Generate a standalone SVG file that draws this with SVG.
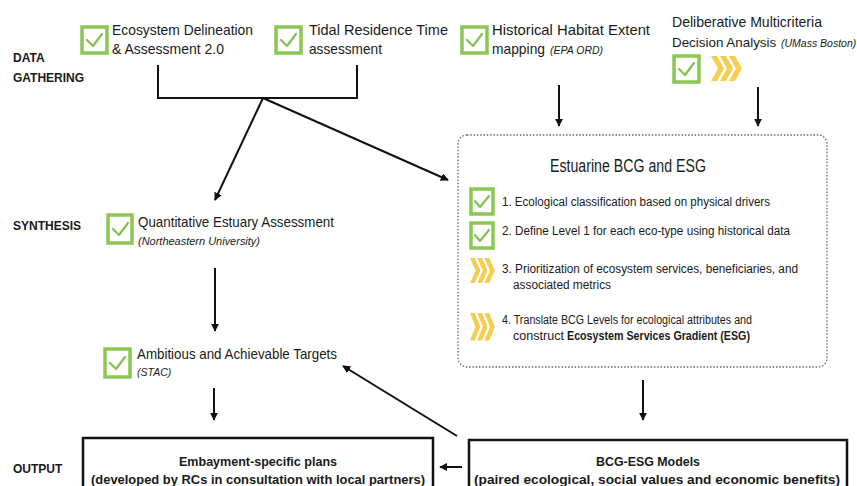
<svg xmlns="http://www.w3.org/2000/svg" width="857" height="486" viewBox="0 0 857 486">
<defs>
<style>
.t{font-family:"Liberation Sans",Arial,sans-serif;fill:#1a1a1a}
.top{font-size:15px}
.it{font-size:12.5px}
.sub{font-size:10.5px;font-style:italic}
.lbl{font-size:12px;font-weight:bold}
.bx{font-size:13px;font-weight:bold}
.cb{fill:#fff;stroke:#8cc653;stroke-width:3.5}
.ck{fill:none;stroke:#84c152;stroke-width:2.2;stroke-linecap:round;stroke-linejoin:round}
.ch{fill:#f6cd4e}
.ln{fill:none;stroke:#111;stroke-width:2}
.ar{fill:none;stroke:#111;stroke-width:2;marker-end:url(#ah)}
</style>
<marker id="ah" viewBox="0 0 10 10" refX="9" refY="5" markerWidth="4" markerHeight="4" orient="auto" markerUnits="strokeWidth">
<path d="M0,0 L10,5 L0,10 z" fill="#111"/>
</marker>
<g id="chev">
<polygon points="0,0 6,0 13,12.5 6,25 0,25 7,12.5"/>
<polygon points="9,0 15,0 22,12.5 15,25 9,25 16,12.5"/>
<polygon points="18,0 24,0 31,12.5 24,25 18,25 25,12.5"/>
</g>
</defs>
<rect width="857" height="486" fill="#fff"/>

<g id="stage-labels">
<text class="t lbl" x="13" y="62">DATA</text>
<text class="t lbl" x="13" y="82">GATHERING</text>
<text class="t lbl" x="13" y="230">SYNTHESIS</text>
<text class="t lbl" x="13" y="473">OUTPUT</text>
</g>

<g id="eco-delineation">
<rect class="cb" x="82" y="27" width="25" height="26"/>
<path class="ck" d="M87,40 L93,46 L102,34"/>
<text class="t top" x="112" y="35" textLength="141" lengthAdjust="spacingAndGlyphs">Ecosystem Delineation</text>
<text class="t top" x="112" y="54" textLength="112" lengthAdjust="spacingAndGlyphs">&amp; Assessment 2.0</text>
</g>

<g id="tidal-residence">
<rect class="cb" x="276" y="27" width="25" height="26"/>
<path class="ck" d="M281,40 L287,46 L296,34"/>
<text class="t top" x="309" y="35" textLength="139" lengthAdjust="spacingAndGlyphs">Tidal Residence Time</text>
<text class="t top" x="309" y="54" textLength="73" lengthAdjust="spacingAndGlyphs">assessment</text>
</g>

<g id="historical-habitat">
<rect class="cb" x="462" y="27" width="25" height="26"/>
<path class="ck" d="M467,40 L473,46 L482,34"/>
<text class="t top" x="492" y="35" textLength="158" lengthAdjust="spacingAndGlyphs">Historical Habitat Extent</text>
<text class="t top" x="492" y="54" textLength="53" lengthAdjust="spacingAndGlyphs">mapping</text>
<text class="t sub" x="550" y="54" font-size="9.5">(EPA ORD)</text>
</g>

<g id="deliberative-mcda">
<text class="t top" x="672" y="27" textLength="150" lengthAdjust="spacingAndGlyphs">Deliberative Multicriteria</text>
<text class="t" x="672" y="47" font-size="13.4">Decision Analysis</text>
<text class="t sub" x="781" y="47" font-size="9">(UMass Boston)</text>
<rect class="cb" x="674" y="56" width="25" height="26"/>
<path class="ck" d="M679,69 L685,75 L694,63"/>
<use href="#chev" class="ch" x="711" y="56"/>
</g>

<g id="estuarine-bcg-esg">
<rect x="458" y="135" width="369" height="232" rx="9" fill="none" stroke="#666" stroke-width="1.3" stroke-dasharray="1.5 1.8"/>
<text class="t" x="550" y="172" font-size="17.5" textLength="156" lengthAdjust="spacingAndGlyphs">Estuarine BCG and ESG</text>
<rect class="cb" x="471" y="189" width="22" height="25"/>
<path class="ck" d="M475,201 L480,207 L489,196"/>
<text class="t it" x="502" y="206" textLength="268" lengthAdjust="spacingAndGlyphs">1. Ecological classification based on physical drivers</text>
<rect class="cb" x="471" y="223" width="22" height="25"/>
<path class="ck" d="M475,235 L480,241 L489,230"/>
<text class="t it" x="502" y="235" textLength="288" lengthAdjust="spacingAndGlyphs">2. Define Level 1 for each eco-type using historical data</text>
<use href="#chev" class="ch" x="470" y="258" transform="translate(470,258) scale(0.8,1) translate(-470,-258)"/>
<text class="t it" x="502" y="273" textLength="296" lengthAdjust="spacingAndGlyphs">3. Prioritization of ecosystem services, beneficiaries, and</text>
<text class="t it" x="513" y="289" textLength="98" lengthAdjust="spacingAndGlyphs">associated metrics</text>
<use href="#chev" class="ch" x="470" y="313" transform="translate(470,313) scale(0.8,1.1) translate(-470,-313)"/>
<text class="t it" x="502" y="324" textLength="250" lengthAdjust="spacingAndGlyphs">4. Translate BCG Levels for ecological attributes and</text>
<text class="t it" x="513" y="340" textLength="51" lengthAdjust="spacingAndGlyphs">construct</text>
<text class="t it" x="567" y="340" font-weight="bold" textLength="183" lengthAdjust="spacingAndGlyphs">Ecosystem Services Gradient (ESG)</text>
</g>

<g id="quantitative-estuary">
<rect class="cb" x="108" y="215" width="24" height="28"/>
<path class="ck" d="M113,229 L119,235 L128,223"/>
<text class="t top" x="138" y="227" textLength="196" lengthAdjust="spacingAndGlyphs">Quantitative Estuary Assessment</text>
<text class="t sub" x="138" y="245" textLength="122" lengthAdjust="spacingAndGlyphs">(Northeastern University)</text>
</g>

<g id="ambitious-targets">
<rect class="cb" x="105" y="349" width="25" height="28"/>
<path class="ck" d="M110,363 L116,369 L125,357"/>
<text class="t top" x="137" y="359" textLength="200" lengthAdjust="spacingAndGlyphs">Ambitious and Achievable Targets</text>
<text class="t sub" x="137" y="376">(STAC)</text>
</g>

<g id="embayment-plans">
<rect x="83" y="438" width="350" height="60" fill="#fff" stroke="#111" stroke-width="2.5"/>
<text class="t bx" x="258" y="466" text-anchor="middle" textLength="158" lengthAdjust="spacingAndGlyphs">Embayment-specific plans</text>
<text class="t bx" x="258" y="484" text-anchor="middle" textLength="334" lengthAdjust="spacingAndGlyphs">(developed by RCs in consultation with local partners)</text>
</g>

<g id="bcg-esg-models">
<rect x="469" y="440" width="378" height="60" fill="#fff" stroke="#111" stroke-width="2.5"/>
<text class="t bx" x="648" y="466" text-anchor="middle" textLength="104" lengthAdjust="spacingAndGlyphs">BCG-ESG Models</text>
<text class="t bx" x="657" y="484" text-anchor="middle" textLength="366" lengthAdjust="spacingAndGlyphs">(paired ecological, social values and economic benefits)</text>
</g>

<g id="connectors">
<polyline class="ln" points="158,65 158,98 357,98 357,65" stroke-width="1.6"/>
<line class="ar" x1="263" y1="98" x2="215" y2="200"/>
<line class="ar" x1="263" y1="98" x2="448" y2="180"/>
<line class="ar" x1="559" y1="85" x2="559" y2="126"/>
<line class="ar" x1="758" y1="87" x2="758" y2="126"/>
<line class="ar" x1="215" y1="268" x2="215" y2="331"/>
<line class="ar" x1="214" y1="388" x2="214" y2="420"/>
<line class="ar" x1="457" y1="436" x2="343" y2="366"/>
<line class="ar" x1="643" y1="380" x2="643" y2="420"/>
<line class="ar" x1="462" y1="467" x2="440" y2="467"/>
</g>
</svg>
